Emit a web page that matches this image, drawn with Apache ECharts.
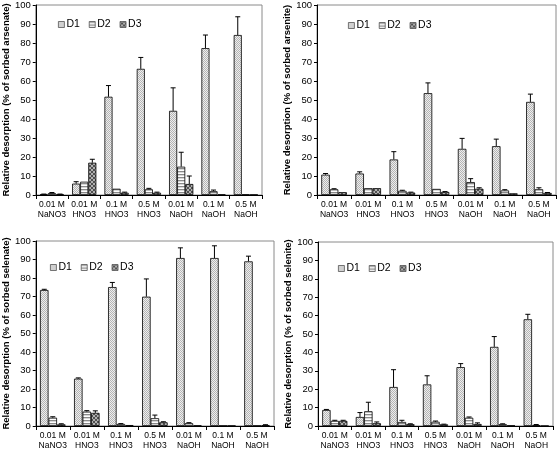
<!DOCTYPE html>
<html><head><meta charset="utf-8">
<script src="https://cdn.jsdelivr.net/npm/echarts@6/dist/echarts.min.js"></script>
<style>html,body{margin:0;padding:0;background:#fff}#c{width:557px;height:451px}</style>
</head><body><div id="c"></div>
<script>
const categories = ['0.01 M\nNaNO3', '0.01 M\nHNO3', '0.1 M\nHNO3', '0.5 M\nHNO3', '0.01 M\nNaOH', '0.1 M\nNaOH', '0.5 M\nNaOH'];
const seriesNames = ['D1', 'D2', 'D3'];

const arsenateD1 = [0.4, 6.0, 51.7, 66.4, 44.3, 77.3, 84.2];
const arsenateD1Err = [0.1, 1.0, 5.9, 6.0, 12.1, 6.9, 9.6];
const arsenateD2 = [1.0, 7.0, 3.3, 3.0, 14.9, 2.0, 0.3];
const arsenateD2Err = [0.3, 0.0, 0.0, 0.5, 7.6, 0.6, 0.0];
const arsenateD3 = [0.4, 17.0, 1.2, 1.2, 5.8, 0.3, 0.2];
const arsenateD3Err = [0.1, 1.8, 0.3, 0.3, 4.2, 0.0, 0.0];

const arseniteD1 = [10.7, 11.3, 18.7, 53.6, 24.3, 25.7, 49.0];
const arseniteD1Err = [0.6, 0.9, 4.1, 5.4, 5.5, 3.7, 4.1];
const arseniteD2 = [3.0, 3.6, 2.2, 3.2, 6.8, 2.4, 3.0];
const arseniteD2Err = [0.3, 0.0, 0.3, 0.0, 1.8, 0.4, 0.8];
const arseniteD3 = [1.5, 3.6, 1.3, 1.6, 3.3, 0.9, 1.1];
const arseniteD3Err = [0.0, 0.0, 0.2, 0.2, 0.5, 0.0, 0.2];

const selenateD1 = [73.5, 25.6, 75.1, 69.9, 90.8, 90.8, 89.0];
const selenateD1Err = [0.4, 0.4, 2.5, 9.6, 5.5, 6.6, 2.8];
const selenateD2 = [4.5, 7.8, 1.1, 4.2, 1.5, 0.2, 0.2];
const selenateD2Err = [0.5, 0.5, 0.2, 1.7, 0.3, 0.0, 0.0];
const selenateD3 = [0.9, 7.1, 0.5, 2.0, 0.3, 0.2, 0.5];
const selenateD3Err = [0.3, 1.1, 0.0, 0.3, 0.0, 0.0, 0.2];

const seleniteD1 = [8.7, 4.9, 21.2, 22.6, 32.0, 43.0, 58.0];
const seleniteD1Err = [0.3, 2.4, 9.4, 4.7, 1.9, 5.6, 2.7];
const seleniteD2 = [2.8, 8.0, 2.2, 2.3, 4.5, 1.0, 0.5];
const seleniteD2Err = [0.3, 4.9, 0.9, 0.4, 0.4, 0.2, 0.3];
const seleniteD3 = [2.8, 1.5, 1.0, 0.9, 1.1, 0.3, 0.1];
const seleniteD3Err = [0.3, 0.7, 0.2, 0.1, 0.6, 0.0, 0.0];

const yAxisNames = [
  'Relative desorption (% of sorbed arsenate)',
  'Relative desorption (% of sorbed arsenite)',
  'Relative desorption (% of sorbed selenate)',
  'Relative desorption (% of sorbed selenite)'
];

const panels = [
  {vals: [arsenateD1, arsenateD2, arsenateD3], errs: [arsenateD1Err, arsenateD2Err, arsenateD3Err]},
  {vals: [arseniteD1, arseniteD2, arseniteD3], errs: [arseniteD1Err, arseniteD2Err, arseniteD3Err]},
  {vals: [selenateD1, selenateD2, selenateD3], errs: [selenateD1Err, selenateD2Err, selenateD3Err]},
  {vals: [seleniteD1, seleniteD2, seleniteD3], errs: [seleniteD1Err, seleniteD2Err, seleniteD3Err]}
];

// layout
const grids = [
  {left: 32, top: 5, width: 230, height: 190},
  {left: 317, top: 5, width: 239, height: 190},
  {left: 32, top: 241, width: 242, height: 191},
  {left: 318, top: 242, width: 235, height: 190}
];
const legendPos = [
  {left: 53, top: 14},
  {left: 343, top: 15},
  {left: 45, top: 257},
  {left: 333, top: 258}
];

function makePattern(kind) {
  const c = document.createElement('canvas');
  const ctx = c.getContext('2d');
  if (kind === 0) {
    c.width = 2; c.height = 2;
    ctx.fillStyle = '#eeeeee'; ctx.fillRect(0, 0, 2, 2);
    ctx.fillStyle = '#b4b4b4'; ctx.fillRect(0, 0, 1, 1); ctx.fillRect(1, 1, 1, 1);
  } else if (kind === 1) {
    c.width = 2; c.height = 3;
    ctx.fillStyle = '#ffffff'; ctx.fillRect(0, 0, 2, 3);
    ctx.fillStyle = '#8a8a8a'; ctx.fillRect(0, 0, 2, 1);
    ctx.fillStyle = '#d8d8d8'; ctx.fillRect(0, 1, 2, 1);
  } else {
    c.width = 4; c.height = 4;
    ctx.fillStyle = '#b0b0b0'; ctx.fillRect(0, 0, 4, 4);
    ctx.fillStyle = '#505050';
    for (let i = 0; i < 4; i++) { ctx.fillRect(i, i, 1, 1); ctx.fillRect(3 - i, i, 1, 1); }
  }
  return c;
}
const patterns = [makePattern(0), makePattern(1), makePattern(2)];
const BAR_FRAC = 0.25;
const font = '"Liberation Sans", Arial, sans-serif';

const option = {
  animation: false,
  backgroundColor: '#fff',
  grid: grids.map(g => Object.assign({show: true, borderColor: '#8a8a8a', borderWidth: 1, backgroundColor: 'transparent'}, g)),
  legend: legendPos.map((p, i) => ({
    left: p.left, top: p.top, data: seriesNames, icon: 'rect',
    itemWidth: 6, itemHeight: 6, itemGap: 9, selectedMode: false,
    itemStyle: {borderColor: '#555', borderWidth: 0.8},
    textStyle: {fontFamily: font, fontSize: 10.5, color: '#000', padding: [0, 0, 0, -3]}
  })),
  xAxis: grids.map((g, i) => ({
    type: 'category', gridIndex: i, data: categories,
    axisLine: {lineStyle: {color: '#000', width: 1}},
    axisTick: {show: true, alignWithLabel: false, length: 4, lineStyle: {color: '#000'}},
    axisLabel: {interval: 0, fontFamily: font, fontSize: 8.5, color: '#000', lineHeight: 10, margin: 5}
  })),
  yAxis: grids.map((g, i) => ({
    type: 'value', gridIndex: i, min: 0, max: 100, interval: 10,
    name: yAxisNames[i], nameLocation: 'middle', nameGap: 20,
    nameTextStyle: {fontFamily: font, fontSize: 9.5, fontWeight: 'bold', color: '#000'},
    axisLine: {show: true, lineStyle: {color: '#000', width: 1}},
    axisTick: {show: true, length: 3, lineStyle: {color: '#000'}},
    splitLine: {show: false},
    axisLabel: {fontFamily: font, fontSize: 9.5, color: '#000', margin: 5}
  })),
  series: []
};

panels.forEach((p, gi) => {
  seriesNames.forEach((name, si) => {
    option.series.push({
      type: 'bar', name: name, xAxisIndex: gi, yAxisIndex: gi,
      data: p.vals[si], barWidth: (BAR_FRAC * 100) + '%', barGap: '0%',
      itemStyle: {color: {image: patterns[si], repeat: 'repeat'}, borderColor: '#000', borderWidth: 0.8}
    });
  });
  const errData = [];
  p.vals.forEach((arr, si) => arr.forEach((v, ci) => errData.push([ci, v, p.errs[si][ci], si])));
  option.series.push({
    type: 'custom', xAxisIndex: gi, yAxisIndex: gi, clip: false, silent: true,
    encode: {x: 0, y: 1},
    data: errData,
    renderItem: function (params, api) {
      const ci = api.value(0), v = api.value(1), e = api.value(2), si = api.value(3);
      if (e <= 0) return null;
      const band = api.size([1, 0])[0];
      const bw = band * BAR_FRAC;
      const base = api.coord([ci, v]);
      const top = api.coord([ci, v + e]);
      const x = base[0] + (si - 1) * bw;
      return {
        type: 'group',
        children: [
          {type: 'line', shape: {x1: x, y1: base[1], x2: x, y2: top[1]}, style: {stroke: '#000', lineWidth: 1}},
          {type: 'line', shape: {x1: x - 2.5, y1: top[1], x2: x + 2.5, y2: top[1]}, style: {stroke: '#000', lineWidth: 1}}
        ]
      };
    }
  });
});

const chart = echarts.init(document.getElementById('c'), null, {renderer: 'canvas'});
chart.setOption(option);
</script>
</body></html>
